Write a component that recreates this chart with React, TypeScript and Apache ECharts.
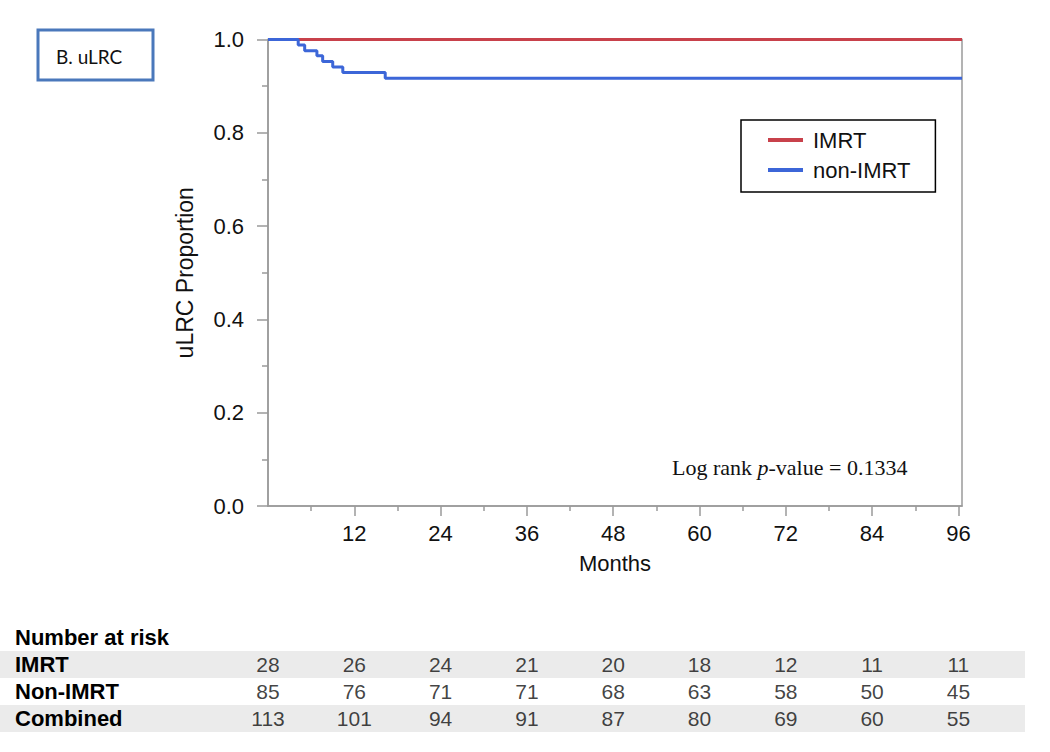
import React, { useEffect, useRef } from "react";
import * as echarts from "echarts";

// Kaplan–Meier step data (months, proportion)
const imrtTimes = [0, 96.5];
const imrtSurv = [1, 1];
const nonImrtTimes = [0, 4.2, 5.1, 6.8, 7.6, 9.0, 10.4, 16.3, 96.5];
const nonImrtSurv = [1, 0.988, 0.976, 0.965, 0.953, 0.941, 0.929, 0.917, 0.917];

// Axis ticks
const xMax = 96.5;
const xTicks = [12, 24, 36, 48, 60, 72, 84, 96];

// Number at risk table
const riskTimes = [0, 12, 24, 36, 48, 60, 72, 84, 96];
const riskGroups = ["IMRT", "Non-IMRT", "Combined"];
const imrtRisk = [28, 26, 24, 21, 20, 18, 12, 11, 11];
const nonImrtRisk = [85, 76, 71, 71, 68, 63, 58, 50, 45];
const combinedRisk = [113, 101, 94, 91, 87, 80, 69, 60, 55];

const AXIS_COLOR = "#9a9a9a";
const FONT = "Liberation Sans, Arial, Helvetica, sans-serif";

export default function App() {
  const ref = useRef<HTMLDivElement>(null);

  useEffect(() => {
    if (!ref.current) return;
    const chart = echarts.init(ref.current, undefined, { renderer: "svg" });

    const gridLeft = 268;
    const gridWidth = 694;
    const tableWidth = 1025;
    const pxPerMonth = gridWidth / xMax;

    const riskRows = [imrtRisk, nonImrtRisk, combinedRisk];
    const tableData: any[] = [];
    riskRows.forEach((row, i) => {
      row.forEach((v, j) => {
        tableData.push([riskTimes[j], riskGroups[i], v]);
      });
    });

    const option: any = {
      animation: false,
      backgroundColor: "#ffffff",
      textStyle: { fontFamily: FONT },
      grid: [
        {
          left: gridLeft,
          top: 39.5,
          width: gridWidth,
          height: 466.5,
          show: true,
          borderColor: AXIS_COLOR,
          borderWidth: 1.5,
          backgroundColor: "rgba(0,0,0,0)",
        },
        {
          left: 0,
          top: 651,
          width: tableWidth,
          height: 81,
        },
      ],
      legend: {
        data: ["IMRT", "non-IMRT"],
        orient: "vertical",
        left: 741,
        top: 120,
        padding: [9, 25, 11, 27],
        itemGap: 8,
        itemWidth: 35,
        itemHeight: 4,
        icon: "rect",
        borderColor: "#000",
        borderWidth: 1.5,
        backgroundColor: "#fff",
        textStyle: { fontSize: 22, color: "#111", fontFamily: FONT, padding: [0, 0, 0, 5] },
      },
      xAxis: [
        {
          type: "value",
          gridIndex: 0,
          position: "bottom",
          min: 0,
          max: xMax,
          interval: 12,
          axisLine: { show: true, lineStyle: { color: AXIS_COLOR, width: 1.5 } },
          axisTick: { show: true, customValues: xTicks, length: 10, lineStyle: { color: AXIS_COLOR, width: 1.5 } },
          minorTick: { show: true, splitNumber: 2, length: 5, lineStyle: { color: AXIS_COLOR, width: 1.5 } },
          axisLabel: { customValues: xTicks, fontSize: 22, color: "#111", margin: 16, fontFamily: FONT },
          splitLine: { show: false },
          name: "Months",
          nameLocation: "middle",
          nameGap: 46,
          nameTextStyle: { fontSize: 22, color: "#111", fontFamily: FONT },
        },
        {
          type: "value",
          gridIndex: 1,
          min: -gridLeft / pxPerMonth,
          max: (tableWidth - gridLeft) / pxPerMonth,
          show: false,
          splitLine: { show: false },
        },
      ],
      yAxis: [
        {
          type: "value",
          gridIndex: 0,
          min: 0,
          max: 1,
          interval: 0.2,
          axisLine: { show: true, lineStyle: { color: AXIS_COLOR, width: 1.5 } },
          axisTick: { show: true, length: 11, lineStyle: { color: AXIS_COLOR, width: 1.5 } },
          minorTick: { show: true, splitNumber: 2, length: 6, lineStyle: { color: AXIS_COLOR, width: 1.5 } },
          axisLabel: {
            fontSize: 22,
            color: "#111",
            margin: 24,
            fontFamily: FONT,
            formatter: (v: number) => v.toFixed(1),
          },
          splitLine: { show: false },
          name: "uLRC Proportion",
          nameLocation: "middle",
          nameGap: 72,
          nameTextStyle: { fontSize: 23, color: "#111", fontFamily: FONT },
        },
        {
          type: "category",
          gridIndex: 1,
          data: riskGroups,
          inverse: true,
          axisLine: { show: false },
          axisTick: { show: false },
          axisLabel: {
            interval: 0,
            fontSize: 22,
            fontWeight: "bold",
            color: "#000",
            align: "left",
            margin: -15,
            fontFamily: FONT,
          },
          splitArea: {
            show: true,
            interval: 0,
            areaStyle: { color: ["#ebebeb", "rgba(255,255,255,0)"] },
          },
        },
      ],
      series: [
        {
          name: "IMRT",
          type: "line",
          xAxisIndex: 0,
          yAxisIndex: 0,
          step: "end",
          symbol: "none",
          color: "#c8414b",
          lineStyle: { color: "#c8414b", width: 3 },
          data: imrtTimes.map((t, i) => [t, imrtSurv[i]]),
          z: 2,
        },
        {
          name: "non-IMRT",
          type: "line",
          xAxisIndex: 0,
          yAxisIndex: 0,
          step: "end",
          symbol: "none",
          color: "#3c66d8",
          lineStyle: { color: "#3c66d8", width: 3 },
          data: nonImrtTimes.map((t, i) => [t, nonImrtSurv[i]]),
          z: 3,
        },
        {
          name: "risk",
          type: "scatter",
          xAxisIndex: 1,
          yAxisIndex: 1,
          symbolSize: 1,
          silent: true,
          itemStyle: { color: "rgba(0,0,0,0)" },
          label: {
            show: true,
            position: "inside",
            formatter: (p: any) => String(p.value[2]),
            fontSize: 21,
            color: "#111",
            fontFamily: FONT,
          },
          data: tableData,
        },
      ],
      graphic: [
        {
          type: "rect",
          shape: { x: 38, y: 30, width: 115, height: 50 },
          style: { fill: "#fff", stroke: "#4a78bb", lineWidth: 3 },
        },
        {
          type: "text",
          x: 56,
          y: 56,
          style: {
            text: "B. uLRC",
            fontSize: 19,
            fontFamily: "Lato, Open Sans, sans-serif",
            fill: "#111",
            verticalAlign: "middle",
          },
        },
        {
          type: "text",
          x: 672,
          y: 467,
          style: {
            text: "{a|Log rank }{i|p}{a|-value = 0.1334}",
            verticalAlign: "middle",
            rich: {
              a: { fontFamily: "Liberation Serif, Times New Roman, serif", fontSize: 22, fill: "#111" },
              i: { fontFamily: "Liberation Serif, Times New Roman, serif", fontSize: 22, fontStyle: "italic", fill: "#111" },
            },
          },
        },
        {
          type: "text",
          x: 15,
          y: 637,
          style: {
            text: "Number at risk",
            fontSize: 22,
            fontWeight: "bold",
            fontFamily: FONT,
            fill: "#000",
            verticalAlign: "middle",
          },
        },
      ],
    };

    chart.setOption(option);
    return () => chart.dispose();
  }, []);

  return (
    <div
      ref={ref}
      style={{ position: "fixed", left: 0, top: 0, width: 1050, height: 752, background: "#fff" }}
    />
  );
}
